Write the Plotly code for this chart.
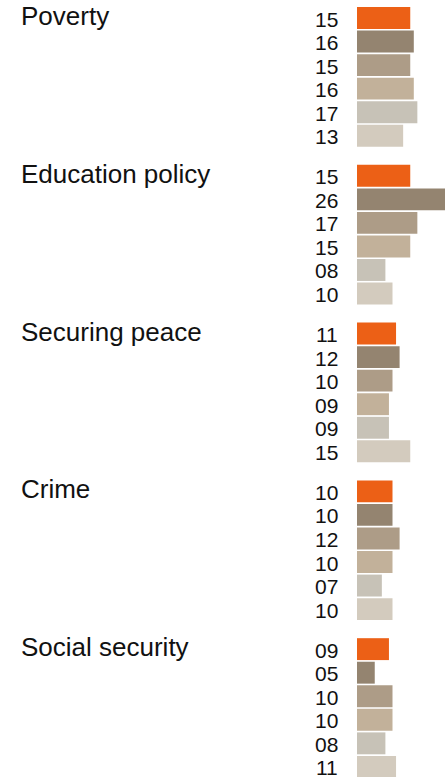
import plotly.graph_objects as go

categories = ["Poverty", "Education policy", "Securing peace", "Crime", "Social security"]
series_colors = ["#EC6016", "#948470", "#AD9C87", "#C2B19A", "#C7C2B7", "#D3CBBE"]
values = [
    [15, 16, 15, 16, 17, 13],
    [15, 26, 17, 15, 8, 10],
    [11, 12, 10, 9, 9, 15],
    [10, 10, 12, 10, 7, 10],
    [9, 5, 10, 10, 8, 11],
]

W, H = 445, 777
x0_px = 357
px_per_unit = 3.55
slot_px = 23.55
first_center_px = 18
group_gap = 0.70  # in slots

n_series = len(series_colors)
group_step = n_series + group_gap

fig = go.Figure()
annotations = []
for g, cat in enumerate(categories):
    ys = [g * group_step + i for i in range(n_series)]
    fig.add_trace(go.Bar(
        x=values[g], y=ys, orientation="h",
        width=0.93,
        marker=dict(color=series_colors, line=dict(width=0)),
        hoverinfo="skip", showlegend=False,
    ))
    annotations.append(dict(
        xref="paper", yref="y", x=-(x0_px - 19) / (W - x0_px), y=ys[0],
        text=cat, showarrow=False, xanchor="left", yanchor="middle",
        yshift=2,
        font=dict(family="Liberation Sans, Arial, sans-serif", size=26, color="#111111"),
    ))
    for v, yy in zip(values[g], ys):
        annotations.append(dict(
            xref="x", yref="y", x=0, y=yy, text=f"{v:02d}", showarrow=False,
            xanchor="right", yanchor="middle", xshift=-17, yshift=-1,
            font=dict(family="Liberation Sans, Arial, sans-serif", size=21, color="#111111"),
        ))

y_top = -first_center_px / slot_px
y_bot = (H - first_center_px) / slot_px

fig.update_layout(
    width=W, height=H,
    margin=dict(l=x0_px, r=0, t=0, b=0),
    paper_bgcolor="white", plot_bgcolor="white",
    barmode="overlay",
    xaxis=dict(range=[0, (W - x0_px) / px_per_unit], visible=False, fixedrange=True),
    yaxis=dict(range=[y_bot, y_top], visible=False, fixedrange=True),
    annotations=annotations,
)

fig.write_html(
    "out.html",
    config={"displayModeBar": False, "staticPlot": True},
    post_script="document.body.style.margin='0';document.body.style.overflow='hidden';",
)
